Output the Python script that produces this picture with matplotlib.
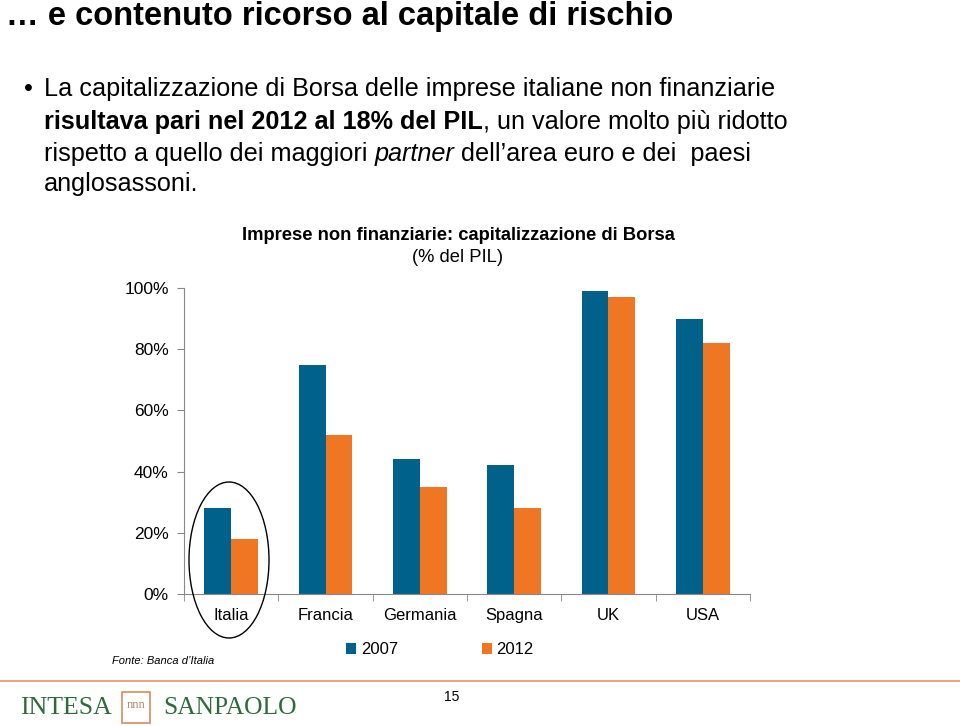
import matplotlib.pyplot as plt
import numpy as np
from matplotlib.patches import Ellipse, Rectangle
from matplotlib.ticker import PercentFormatter

# dati (% del PIL)
paesi = ["Italia", "Francia", "Germania", "Spagna", "UK", "USA"]
anni = ["2007", "2012"]
val_2007 = [28, 75, 44, 42, 99, 90]
val_2012 = [18, 52, 35, 28, 97, 82]
y_ticks = [0, 20, 40, 60, 80, 100]

blu = "#00628b"
arancio = "#ef7622"
verde = "#2e6b3c"

plt.rcParams['font.family'] = ['Liberation Sans', 'DejaVu Sans']

fig = plt.figure(figsize=(9.6, 7.26), dpi=100)

# titolo della slide e testo
fig.text(6/960, 1 - 16/726, "\u2026 e contenuto ricorso al capitale di rischio",
         fontsize=23.5, fontweight='bold', va='center', ha='left')

fs = 18.2
fig.text(24/960, 1 - 89/726, "\u2022", fontsize=fs, va='center', ha='left')
righe_y = [89, 122, 154, 184]
fig.text(44/960, 1 - righe_y[0]/726,
         "La capitalizzazione di Borsa delle imprese italiane non finanziarie",
         fontsize=fs, va='center', ha='left')
t1 = fig.text(44/960, 1 - righe_y[1]/726, "risultava pari nel 2012 al 18% del PIL",
              fontsize=fs, fontweight='bold', va='center', ha='left')
fig.canvas.draw()
bb = t1.get_window_extent()
fig.text(bb.x1/960, 1 - righe_y[1]/726, ", un valore molto pi\u00f9 ridotto",
         fontsize=fs, va='center', ha='left')
t2 = fig.text(44/960, 1 - righe_y[2]/726, "rispetto a quello dei maggiori ",
              fontsize=fs, va='center', ha='left')
fig.canvas.draw()
bb = t2.get_window_extent()
t3 = fig.text(bb.x1/960, 1 - righe_y[2]/726, "partner",
              fontsize=fs, style='italic', va='center', ha='left')
fig.canvas.draw()
bb = t3.get_window_extent()
fig.text(bb.x1/960, 1 - righe_y[2]/726, " dell\u2019area euro e dei  paesi",
         fontsize=fs, va='center', ha='left')
fig.text(44/960, 1 - righe_y[3]/726, "anglosassoni.",
         fontsize=fs, va='center', ha='left')

# grafico
ax = fig.add_axes([184/960, 1 - 594/726, 566/960, 306/726])
x = np.arange(len(paesi))
w = 0.283
b1 = ax.bar(x - w/2, val_2007, w, color=blu, label=anni[0])
b2 = ax.bar(x + w/2, val_2012, w, color=arancio, label=anni[1])

ax.set_xlim(-0.5, len(paesi) - 0.5)
ax.set_ylim(0, 100)
ax.set_yticks(y_ticks)
ax.yaxis.set_major_formatter(PercentFormatter(decimals=0))
ax.set_xticks(x)
ax.set_xticklabels(paesi, fontsize=12)
ax.set_xticks(np.arange(len(paesi) + 1) - 0.5, minor=True)
ax.tick_params(axis='x', which='major', length=0, pad=10)
ax.tick_params(axis='x', which='minor', length=5, color='#888888', direction='out')
ax.tick_params(axis='y', labelsize=12.5, length=5, color='#888888', pad=6)
for s in ['top', 'right']:
    ax.spines[s].set_visible(False)
for s in ['left', 'bottom']:
    ax.spines[s].set_color('#888888')

fig.text(458/960, 1 - 235/726, "Imprese non finanziarie: capitalizzazione di Borsa",
         fontsize=13.2, fontweight='bold', ha='center', va='center')
fig.text(458/960, 1 - 257/726, "(% del PIL)", fontsize=13.2, ha='center', va='center')

ax.legend(handles=[b1, b2], loc='center', bbox_to_anchor=(440/960, 1 - 650/726),
          bbox_transform=fig.transFigure, ncol=2, frameon=False, fontsize=12,
          handlelength=0.6, handleheight=0.6, handletextpad=0.3, columnspacing=5)

# ellisse attorno all'Italia
fig.add_artist(Ellipse((229/960, 1 - 560/726), 80/960, 156/726, transform=fig.transFigure,
                       fill=False, edgecolor='black', lw=1))

fig.text(112/960, 1 - 661/726, "Fonte: Banca d\u2019Italia", fontsize=8,
         style='italic', ha='left', va='center')

# piè di pagina
fig.add_artist(plt.Line2D([0, 1], [1 - 681/726, 1 - 681/726], transform=fig.transFigure,
                          color='#e8956a', lw=1.2))
fig.text(452/960, 1 - 697/726, "15", fontsize=10, ha='center', va='center')
fig.text(20/960, 1 - 708/726, "INTESA", family='Liberation Serif', fontsize=18.6,
         color=verde, ha='left', va='center')
fig.add_artist(Rectangle((122/960, 1 - 723/726), 28/960, 31/726, transform=fig.transFigure,
                         fill=False, edgecolor='#d98a5f', lw=1.2))
fig.text(136/960, 1 - 705/726, "nnn", fontsize=9, color='#b08a70',
         family='Liberation Serif', ha='center', va='center')
fig.text(163/960, 1 - 708/726, "SANPAOLO", family='Liberation Serif', fontsize=18.4,
         color=verde, ha='left', va='center')

fig.savefig("out.png", dpi=100)
